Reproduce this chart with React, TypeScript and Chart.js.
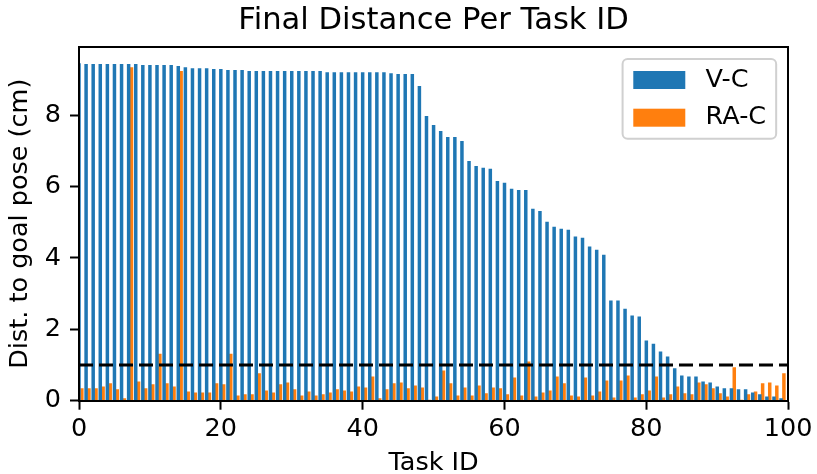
import React, { useEffect, useRef } from "react";
import { Chart, registerables } from "chart.js";

Chart.register(...registerables);

// ---- data ----
const seriesLabels = ["V-C", "RA-C"];
const chartTitle = "Final Distance Per Task ID";
const xAxisTitle = "Task ID";
const yAxisTitle = "Dist. to goal pose (cm)";

const vcValues = [
  9.45, 9.43, 9.43, 9.43, 9.43, 9.43, 9.43, 9.43, 9.43, 9.40,
  9.40, 9.40, 9.40, 9.40, 9.37, 9.34, 9.31, 9.31, 9.31, 9.29,
  9.29, 9.26, 9.26, 9.26, 9.23, 9.23, 9.23, 9.23, 9.23, 9.23,
  9.23, 9.23, 9.23, 9.23, 9.23, 9.20, 9.20, 9.20, 9.20, 9.20,
  9.20, 9.20, 9.20, 9.20, 9.17, 9.15, 9.15, 9.15, 8.81, 7.97,
  7.72, 7.55, 7.38, 7.38, 7.27, 6.71, 6.57, 6.52, 6.49, 6.15,
  6.10, 5.93, 5.90, 5.90, 5.37, 5.31, 5.01, 4.87, 4.81, 4.78,
  4.59, 4.56, 4.31, 4.22, 4.08, 2.80, 2.80, 2.57, 2.38, 2.35,
  1.68, 1.59, 1.37, 1.23, 0.90, 0.70, 0.67, 0.67, 0.53, 0.50,
  0.39, 0.34, 0.34, 0.31, 0.31, 0.22, 0.17, 0.11, 0.11, 0.06,
];

const racValues = [
  0.34, 0.34, 0.34, 0.39, 0.48, 0.31, 0.06, 9.34, 0.53, 0.34,
  0.45, 1.31, 0.48, 0.39, 9.23, 0.25, 0.22, 0.22, 0.22, 0.48,
  0.45, 1.31, 0.14, 0.17, 0.17, 0.76, 0.28, 0.22, 0.45, 0.50,
  0.31, 0.14, 0.25, 0.14, 0.17, 0.22, 0.31, 0.28, 0.25, 0.39,
  0.36, 0.67, 0.06, 0.31, 0.48, 0.50, 0.34, 0.42, 0.36, 0.02,
  0.11, 0.84, 0.48, 0.14, 0.36, 0.14, 0.42, 0.20, 0.36, 0.34,
  0.17, 0.64, 0.14, 1.09, 0.11, 0.22, 0.28, 0.67, 0.48, 0.14,
  0.11, 0.64, 0.14, 0.25, 0.56, 0.08, 0.56, 0.70, 0.08, 0.17,
  0.28, 0.67, 0.08, 0.17, 0.39, 0.20, 0.17, 0.50, 0.45, 0.34,
  0.20, 0.11, 0.93, 0.02, 0.17, 0.25, 0.48, 0.50, 0.42, 0.76,
];

const taskIds = vcValues.map((_, i) => i);
const threshold = 1;
const xTickValues = [0, 20, 40, 60, 80, 100];
const yTickValues = [0, 2, 4, 6, 8];

// ---- styles ----
const FONT = '"DejaVu Sans", "Noto Sans", sans-serif';
const BLUE = "#1f77b4";
const ORANGE = "#ff7f0e";
const BAR_W = 0.4; // bar width in task units
const FS = 25.5;
const TITLE_FS = 30.6;

const insideLegend = {
  id: "insideLegend",
  afterDraw(chart: any) {
    const { ctx, chartArea } = chart;
    const items = chart.data.datasets.filter((d: any) => d.type !== "line");
    ctx.save();
    ctx.font = `${FS}px ${FONT}`;
    const maxText = Math.max(...items.map((d: any) => ctx.measureText(d.label).width));
    const padL = 10.7, patchW = 52, patchH = 18, gap = 20.3, padR = 10, rowH = 37.7, firstRow = 21;
    const boxW = padL + patchW + gap + maxText + padR;
    const boxH = firstRow * 2 + rowH * (items.length - 1);
    const right = chartArea.right - 12;
    const left = right - boxW;
    const top = chartArea.top + 12.3;
    const r = 5;
    ctx.beginPath();
    ctx.moveTo(left + r, top);
    ctx.lineTo(left + boxW - r, top);
    ctx.arcTo(left + boxW, top, left + boxW, top + r, r);
    ctx.lineTo(left + boxW, top + boxH - r);
    ctx.arcTo(left + boxW, top + boxH, left + boxW - r, top + boxH, r);
    ctx.lineTo(left + r, top + boxH);
    ctx.arcTo(left, top + boxH, left, top + boxH - r, r);
    ctx.lineTo(left, top + r);
    ctx.arcTo(left, top, left + r, top, r);
    ctx.closePath();
    ctx.fillStyle = "rgba(255,255,255,0.8)";
    ctx.fill();
    ctx.strokeStyle = "#d0d0d0";
    ctx.lineWidth = 2;
    ctx.stroke();
    items.forEach((d: any, i: number) => {
      const cy = top + firstRow + i * rowH;
      ctx.fillStyle = d.backgroundColor;
      ctx.fillRect(left + padL, cy - patchH / 2, patchW, patchH);
      ctx.fillStyle = "#000";
      ctx.textBaseline = "middle";
      ctx.textAlign = "left";
      ctx.fillText(d.label, left + padL + patchW + gap, cy);
    });
    ctx.restore();
  },
};

export default function App() {
  const canvasRef = useRef<HTMLCanvasElement | null>(null);

  useEffect(() => {
    const canvas = canvasRef.current;
    if (!canvas) return;
    Chart.defaults.color = "#000";
    Chart.defaults.font.family = FONT;

    const yMax = Math.max(...vcValues, ...racValues) * 1.05;
    const tickFont = { family: FONT, size: FS };

    const chart = new Chart(canvas, {
      type: "bar",
      data: {
        datasets: [
          {
            type: "line",
            label: "threshold",
            data: [
              { x: xTickValues[0], y: threshold },
              { x: xTickValues[xTickValues.length - 1], y: threshold },
            ],
            borderColor: "#000",
            borderWidth: 3.2,
            borderDash: [14, 6],
            pointRadius: 0,
            fill: false,
            order: 0,
          } as any,
          {
            label: seriesLabels[0],
            data: taskIds.map((id, i) => ({ x: id, y: vcValues[i] })),
            backgroundColor: BLUE,
            borderWidth: 0,
            grouped: false,
            barPercentage: 1,
            categoryPercentage: 1,
            order: 1,
          } as any,
          {
            label: seriesLabels[1],
            data: taskIds.map((id, i) => ({ x: id + BAR_W, y: racValues[i] })),
            backgroundColor: ORANGE,
            borderWidth: 0,
            grouped: false,
            barPercentage: 1,
            categoryPercentage: 1,
            order: 2,
          } as any,
        ],
      },
      options: {
        animation: false,
        responsive: false,
        events: [],
        layout: { padding: { left: 0, right: 25, top: 0, bottom: 0 } },
        plugins: {
          legend: { display: false },
          tooltip: { enabled: false },
          title: { display: false },
        },
        scales: {
          x: {
            type: "linear",
            position: "bottom",
            min: xTickValues[0],
            max: xTickValues[xTickValues.length - 1],
            offset: false,
            grid: {
              offset: false,
              drawOnChartArea: false,
              drawTicks: true,
              tickLength: 9,
              tickWidth: 2,
              tickColor: "#000",
            },
            border: { display: true, color: "#000", width: 2, z: 1 },
            ticks: { font: tickFont, color: "#000", padding: 4.5, maxRotation: 0, autoSkip: false },
            afterBuildTicks: (s: any) => {
              s.ticks = xTickValues.map((v) => ({ value: v }));
            },
            title: {
              display: true,
              text: xAxisTitle,
              color: "#000",
              font: { family: FONT, size: FS, lineHeight: 0.82 },
              padding: 0,
            },
            afterFit: (s: any) => {
              s.height = 73.3;
            },
          },
          y: {
            type: "linear",
            position: "left",
            min: 0,
            max: yMax,
            grid: {
              drawOnChartArea: false,
              drawTicks: true,
              tickLength: 9,
              tickWidth: 2,
              tickColor: "#000",
            },
            border: { display: true, color: "#000", width: 2, z: 1 },
            ticks: { font: tickFont, color: "#000", padding: 9 },
            afterBuildTicks: (s: any) => {
              s.ticks = yTickValues.map((v) => ({ value: v }));
            },
            title: {
              display: true,
              text: yAxisTitle,
              color: "#000",
              font: { family: FONT, size: FS, lineHeight: 1.2 },
              padding: { top: 5, bottom: 0 },
            },
            afterFit: (s: any) => {
              s.width = 79;
            },
          },
          xTop: {
            type: "linear",
            position: "top",
            min: 0,
            max: 1,
            grid: { display: false },
            ticks: { display: false },
            border: { display: true, color: "#000", width: 2, z: 1 },
            title: {
              display: true,
              text: chartTitle,
              color: "#000",
              font: { family: FONT, size: TITLE_FS, lineHeight: 1.2 },
              padding: { top: 2.6, bottom: 0 },
            },
            afterFit: (s: any) => {
              s.height = 46.7;
            },
          },
          yRight: {
            type: "linear",
            position: "right",
            min: 0,
            max: 1,
            grid: { display: false },
            ticks: { display: false },
            border: { display: true, color: "#000", width: 2, z: 1 },
            afterFit: (s: any) => {
              s.width = 0;
            },
          },
        } as any,
      },
      plugins: [insideLegend],
    });

    return () => {
      chart.destroy();
    };
  }, []);

  return (
    <div style={{ position: "fixed", left: 0, top: 0, width: 817, height: 474, background: "#fff" }}>
      <canvas ref={canvasRef} width={817} height={474} style={{ display: "block" }} />
    </div>
  );
}
